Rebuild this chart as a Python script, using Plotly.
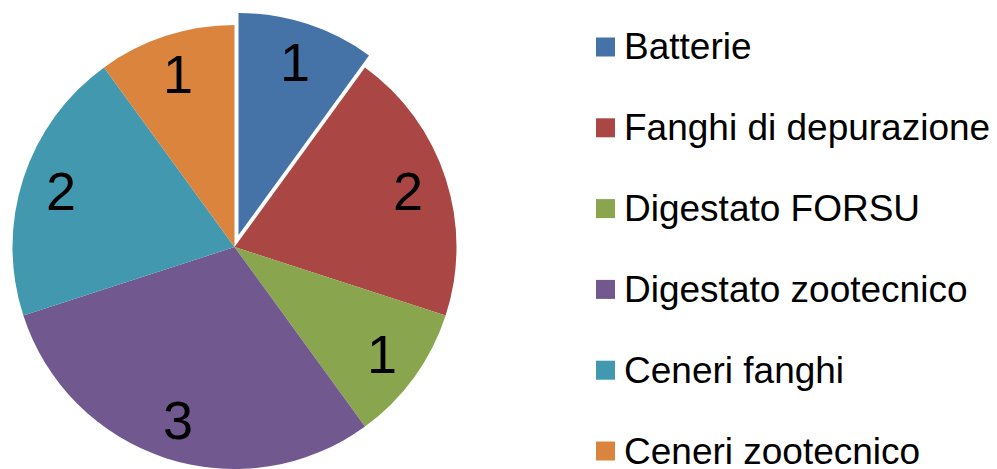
import math
import plotly.graph_objects as go

# data
labels = ["Batterie", "Fanghi di depurazione", "Digestato FORSU",
          "Digestato zootecnico", "Ceneri fanghi", "Ceneri zootecnico"]
values = [1, 2, 1, 3, 2, 1]
colors = ["#4572A7", "#AA4643", "#89A54E", "#71588F", "#4198AF", "#DB843D"]
pulled = "Batterie"

W, H = 997, 469
CLEAR = "rgba(0,0,0,0)"
FONT = "Liberation Sans, Arial"

# pie geometry in pixels (center / radius), pulled slice offset
cx, cy, r = 234.5, 247, 222
pull_dx, pull_dy = 4, -12


def domain(dx=0, dy=0):
    return dict(
        x=[(cx + dx - r) / W, (cx + dx + r) / W],
        y=[max(0, (H - (cy + dy + r)) / H), (H - (cy + dy - r)) / H],
    )


is_pulled = [lab == pulled for lab in labels]

fig = go.Figure()

# whole pie without the pulled slice
fig.add_trace(go.Pie(
    labels=labels, values=values, sort=False, direction="clockwise", rotation=0,
    marker=dict(colors=[CLEAR if p else c for p, c in zip(is_pulled, colors)],
                line=dict(width=0)),
    textinfo="none", domain=domain(), hoverinfo="skip", showlegend=False,
))

# pulled slice drawn on its own, shifted outward
fig.add_trace(go.Pie(
    labels=labels, values=values, sort=False, direction="clockwise", rotation=0,
    marker=dict(colors=[c if p else CLEAR for p, c in zip(is_pulled, colors)],
                line=dict(width=0)),
    textinfo="none", domain=domain(pull_dx, pull_dy), hoverinfo="skip",
    showlegend=False,
))

annotations = []

# value labels, placed along each slice's mid angle
total = sum(values)
cum = 0
for v, p in zip(values, is_pulled):
    ang = 2 * math.pi * (cum + v / 2) / total
    cum += v
    rl = 0.82 * r
    px = cx + rl * math.sin(ang) + (pull_dx if p else 0)
    py = cy - rl * math.cos(ang) + (pull_dy if p else 0)
    annotations.append(dict(text=str(v), xref="paper", yref="paper",
                            x=px / W, y=(H - py) / H,
                            xanchor="center", yanchor="middle", showarrow=False,
                            font=dict(family=FONT, size=54, color="black")))

# legend on the right
shapes = []
row0, step = 47, 80.8
for i, (lab, col) in enumerate(zip(labels, colors)):
    yc = row0 + i * step
    shapes.append(dict(type="rect", xref="paper", yref="paper",
                       x0=596 / W, x1=615 / W,
                       y0=(H - yc - 9.5) / H, y1=(H - yc + 9.5) / H,
                       fillcolor=col, line=dict(width=0)))
    annotations.append(dict(text=lab, xref="paper", yref="paper",
                            x=622 / W, y=(H - yc) / H,
                            xanchor="left", yanchor="middle", showarrow=False,
                            font=dict(family=FONT, size=37, color="black")))

fig.update_layout(
    width=W, height=H,
    margin=dict(l=0, r=0, t=0, b=0),
    paper_bgcolor="white", plot_bgcolor="white",
    shapes=shapes, annotations=annotations,
)

# the page's default body margin would shift the whole figure
fig.write_html("out.html", config={"displayModeBar": False},
               post_script="document.body.style.margin='0';")
